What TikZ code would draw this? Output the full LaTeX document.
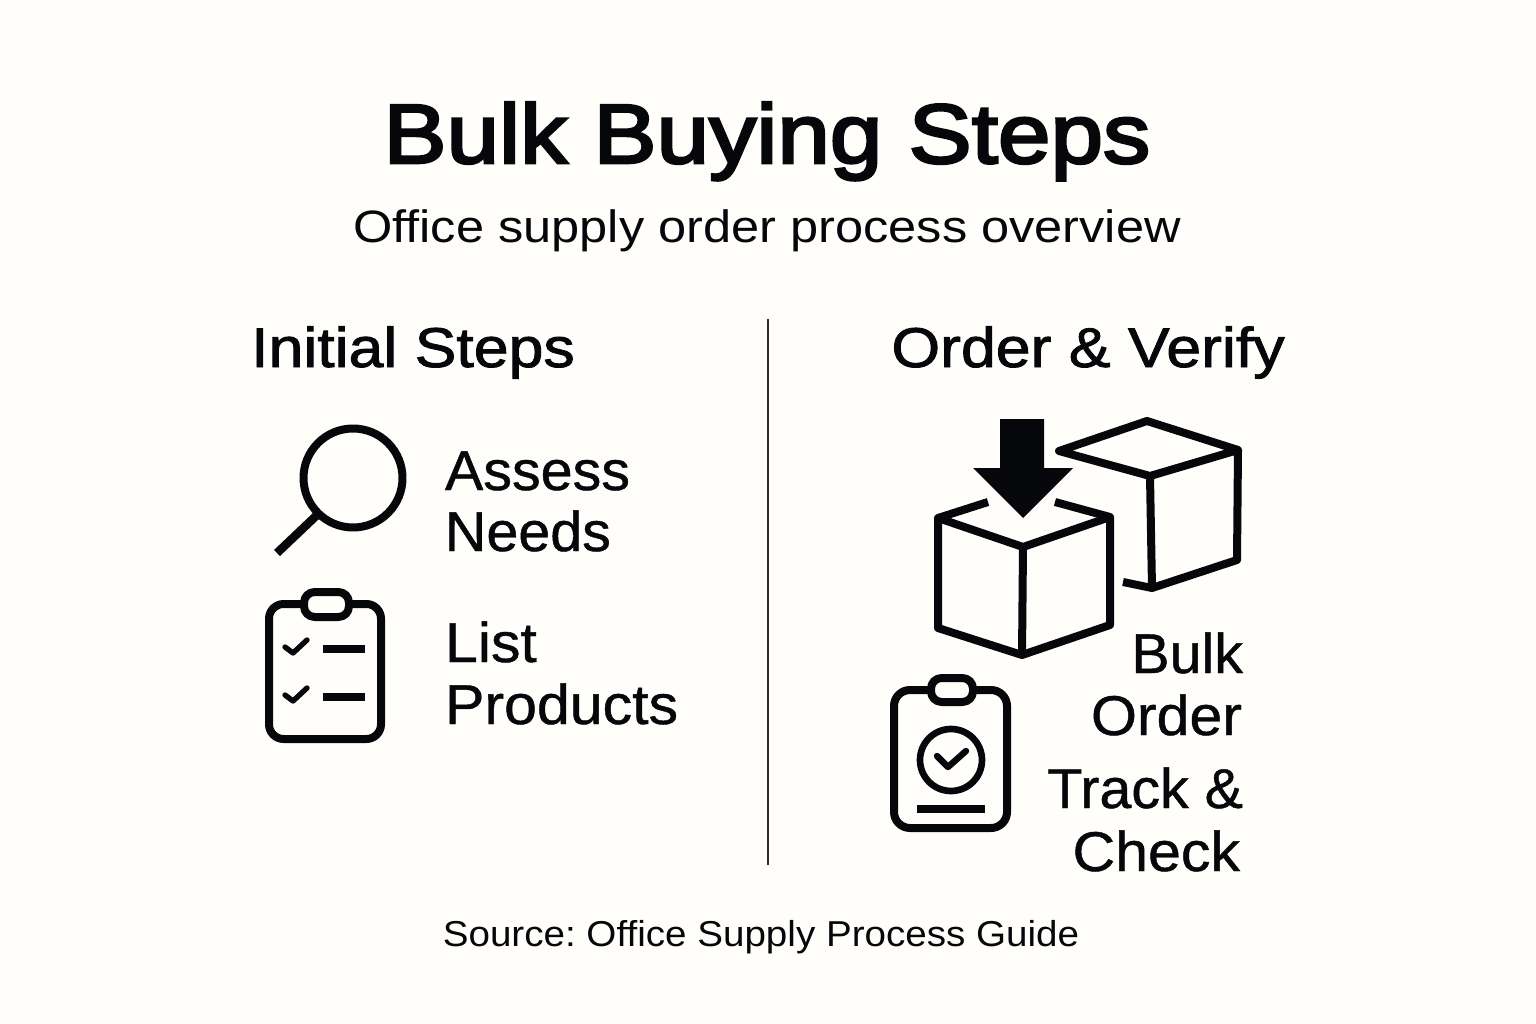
\documentclass[tikz,border=0pt]{standalone}
\usepackage{fontspec}
\setmainfont{Liberation Sans}
\newfontfamily\titlefont[FakeBold=3.2,FakeStretch=1.125]{Liberation Sans}
\newfontfamily\subfont[FakeStretch=1.115]{Liberation Sans}
\newfontfamily\headfont[FakeBold=1.6,FakeStretch=1.118]{Liberation Sans}
\newfontfamily\itemfont[FakeBold=0.8,FakeStretch=1.055]{Liberation Sans}
\newfontfamily\itemnarrow[FakeBold=0.8,FakeStretch=1.025]{Liberation Sans}
\newfontfamily\srcfont[FakeStretch=1.072]{Liberation Sans}
\definecolor{bgc}{HTML}{FFFEFA}
\definecolor{ink}{HTML}{05070B}
\tikzset{
  txt/.style={inner sep=0pt,outer sep=0pt,text=ink},
  titlet/.style={txt,anchor=base,font=\titlefont\fontsize{63}{63}\selectfont},
  subt/.style={txt,anchor=base,font=\subfont\fontsize{34}{34}\selectfont},
  headt/.style={txt,anchor=base,font=\headfont\fontsize{42}{42}\selectfont},
  itemt/.style={txt,font=\itemfont\fontsize{42}{42}\selectfont},
  itemn/.style={txt,font=\itemnarrow\fontsize{42}{42}\selectfont},
  srct/.style={txt,anchor=base,font=\srcfont\fontsize{27}{27}\selectfont},
  icon/.style={draw=ink,line width=6pt,line join=round,line cap=round},
  thin icon/.style={draw=ink,line width=4pt,line join=round,line cap=round},
  bar/.style={draw=ink,line width=5.6pt,line cap=butt},
  cube/.style={draw=ink,line width=6pt,line join=round,line cap=butt},
}
\frenchspacing
\begin{document}
\begin{tikzpicture}[x=0.75pt,y=-0.75pt]
\fill[bgc] (0,0) rectangle (1536,1024);
\useasboundingbox (0,0) rectangle (1536,1024);
% headings
\node[titlet] (title) at (767,163) {Bulk Buying Steps};
\node[subt] (sub) at (767,242) {Office supply order process overview};
\node[headt] (h1) at (413,367) {Initial Steps};
\node[headt] (h2) at (1088,367) {Order \& Verify};
\coordinate (divtop) at (768,319);
\coordinate (divbot) at (768,865);
\draw[ink!85,line width=1.1pt] (divtop) -- (divbot);
% left labels
\node[itemn,anchor=base west] (a1) at (445,490) {Assess};
\node[itemn,anchor=base west] (a2) at (445,551) {Needs};
\node[itemt,anchor=base west] (l1) at (445,662) {List};
\node[itemt,anchor=base west] (l2) at (445,724) {Products};
% right labels
\node[itemn,anchor=base east] (b1) at (1243,673) {Bulk};
\node[itemt,anchor=base east] (b2) at (1242,735) {Order};
\node[itemn,anchor=base east] (c1) at (1243,808) {Track \&};
\node[itemt,anchor=base east] (c2) at (1240,871) {Check};
\node[srct] (src) at (761,946) {Source: Office Supply Process Guide};
% magnifier
\draw[icon] (353,478) circle (49.5);
\draw[draw=ink,line width=6.4pt] (316,516) -- (277,553);
% checklist clipboard
\draw[icon] (269,604) [rounded corners=11pt] rectangle (381,739);
\draw[icon,fill=bgc] (304,592) [rounded corners=8pt] rectangle (349,617);
\draw[thin icon] (285,647) -- (293,653) -- (307,640);
\draw[bar] (323,649) -- (365,649);
\draw[thin icon] (285,695) -- (293,701) -- (307,688);
\draw[bar] (323,697) -- (365,697);
% verify clipboard
\draw[icon] (894,690) [rounded corners=12pt] rectangle (1007,828);
\draw[icon,fill=bgc] (931,678) [rounded corners=8pt] rectangle (973,702);
\draw[draw=ink,line width=5pt] (951,760) circle (31);
\draw[draw=ink,line width=4.8pt,line join=round,line cap=round] (937,756) -- (948,767) -- (966,751);
\draw[bar] (917,809) -- (985,809);
% back cube
\draw[cube] (1123,582) -- (1152,588) -- (1237,560) -- (1238,450) -- (1147,421) -- (1059,451) -- (1150,476) -- (1238,450);
\draw[cube] (1150,476) -- (1152,588);
% front cube
\draw[cube] (988,502) -- (938,518) -- (938,628) -- (1022,655) -- (1110,625) -- (1110,517) -- (1055,502);
\draw[cube] (938,518) -- (1023,547) -- (1110,517);
\draw[cube] (1023,547) -- (1022,655);
% arrow
\fill[ink] (1000,419) -- (1044,419) -- (1044,468) -- (1073,468) -- (1023,518) -- (973,468) -- (1000,468) -- cycle;
\end{tikzpicture}
\end{document}
